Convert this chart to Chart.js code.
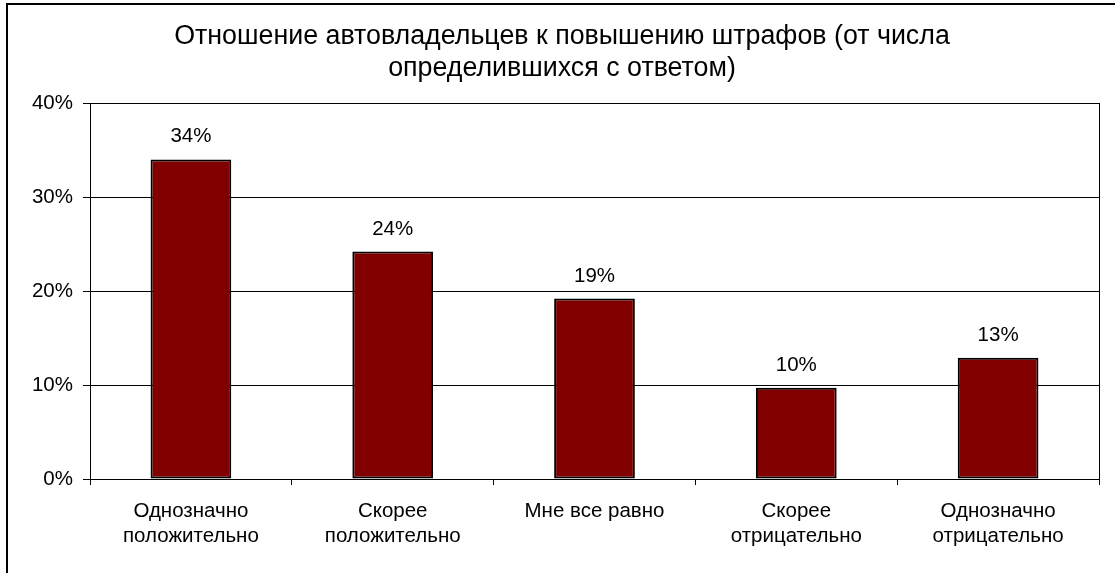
<!DOCTYPE html>
<html>
<head>
<meta charset="utf-8">
<script src="https://cdn.jsdelivr.net/npm/chart.js"></script>
<style>
  html, body { margin: 0; padding: 0; background: #fff; overflow: hidden; }
  #wrap { position: relative; width: 1115px; height: 573px; }
  #chart { position: absolute; left: 0; top: 0; }
  #frame {
    position: absolute; left: 6px; top: 3px; width: 1200px; height: 700px;
    border-top: 2px solid #000; border-left: 2px solid #000;
    pointer-events: none;
  }
</style>
</head>
<body>
<div id="wrap">
  <canvas id="chart" width="1115" height="573"></canvas>
  <div id="frame"></div>
</div>
<script>
const titleLines = ["Отношение автовладельцев к повышению штрафов (от числа", "определившихся с ответом)"];
const categories = [
  ["Однозначно", "положительно"],
  ["Скорее", "положительно"],
  "Мне все равно",
  ["Скорее", "отрицательно"],
  ["Однозначно", "отрицательно"],
];
const shares = [34.0, 24.2, 19.2, 9.7, 12.9];
const yTicks = [0, 10, 20, 30, 40];

const FONT = "'Liberation Sans', Arial, sans-serif";

// values above the bars, rounded like the source labels
const barLabels = {
  id: "barLabels",
  afterDatasetsDraw(chart) {
    const ctx = chart.ctx;
    const meta = chart.getDatasetMeta(0);
    ctx.save();
    ctx.font = "20.5px " + FONT;
    ctx.fillStyle = "#000";
    ctx.textAlign = "center";
    ctx.textBaseline = "alphabetic";
    meta.data.forEach((bar, i) => {
      ctx.fillText(Math.round(shares[i]) + "%", bar.x, bar.y - 17);
    });
    ctx.restore();
  },
};

new Chart(document.getElementById("chart"), {
  type: "bar",
  data: {
    labels: categories,
    datasets: [
      {
        data: shares,
        backgroundColor: "#800000",
        borderColor: "#000",
        borderWidth: 2,
        borderSkipped: false,
        barPercentage: 0.4,
        categoryPercentage: 1,
      },
    ],
  },
  options: {
    responsive: false,
    animation: false,
    layout: { padding: { left: 25, right: 16, top: 0, bottom: 0 } },
    plugins: {
      legend: { display: false },
      tooltip: { enabled: false },
      title: {
        display: true,
        text: titleLines,
        color: "#000",
        font: { family: FONT, size: 26.8, weight: "normal", lineHeight: "32.3px" },
        padding: { top: 20.5, bottom: 18 },
      },
    },
    scales: {
      x: {
        offset: true,
        grid: {
          offset: true,
          drawOnChartArea: false,
          drawTicks: true,
          tickLength: 6,
          color: "#000",
        },
        border: { display: true, color: "#000", width: 1 },
        ticks: {
          color: "#000",
          padding: 14,
          maxRotation: 0,
          autoSkip: false,
          font: { family: FONT, size: 20.5, lineHeight: "25px" },
        },
        afterFit: (s) => { s.height = 94; },
      },
      y: {
        min: 0,
        max: 40,
        afterBuildTicks: (s) => { s.ticks = yTicks.map((v) => ({ value: v })); },
        grid: { color: "#000", tickLength: 7, drawTicks: true },
        border: { display: true, color: "#000", width: 1 },
        ticks: {
          color: "#000",
          padding: 10,
          font: { family: FONT, size: 20.5 },
          callback: (v) => v + "%",
        },
        afterFit: (s) => { s.width = 65; },
      },
      y1: {
        position: "right",
        min: 0,
        max: 40,
        grid: { drawOnChartArea: false, drawTicks: false },
        border: { display: true, color: "#000", width: 1 },
        ticks: { display: false },
        afterFit: (s) => { s.width = 0; },
      },
    },
  },
  plugins: [barLabels],
});
</script>
</body>
</html>
